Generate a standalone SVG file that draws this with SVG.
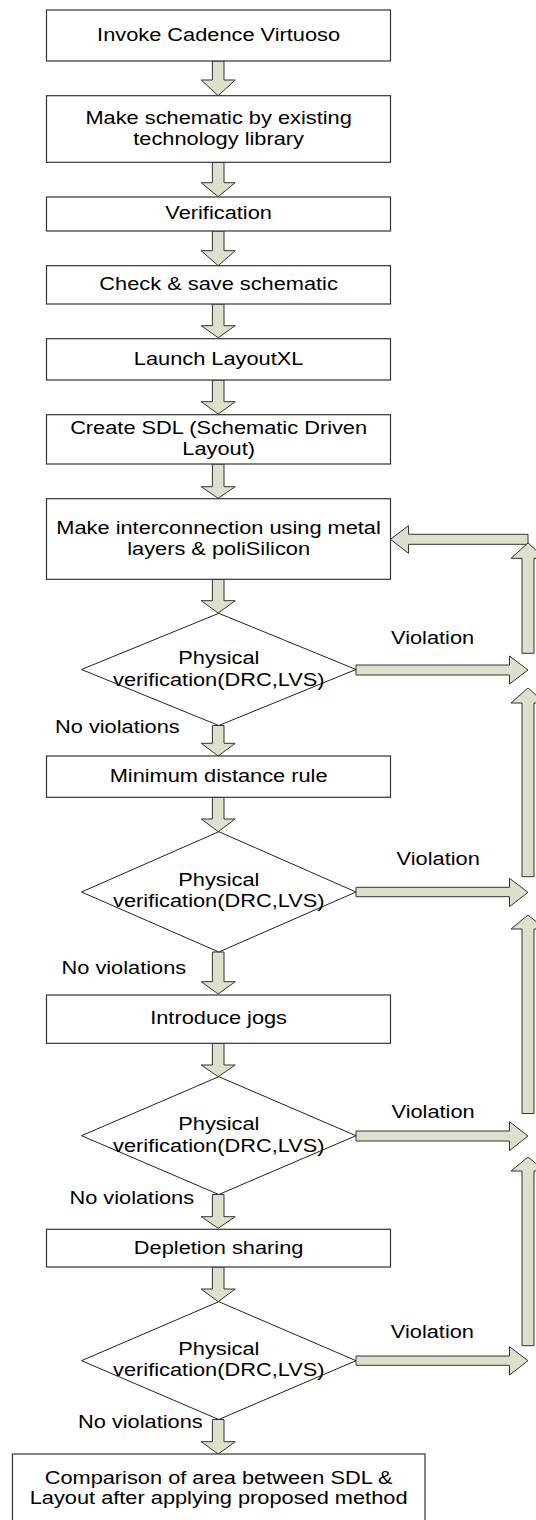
<svg xmlns="http://www.w3.org/2000/svg" width="536" height="1520" viewBox="0 0 536 1520">
<style>
.box{fill:#fff;stroke:#333;stroke-width:1.2}
.dia{fill:#fff;stroke:#222;stroke-width:1}
.arr{fill:#DDE1CB;stroke:#333;stroke-width:1;stroke-linejoin:miter}
.t{font-family:"Liberation Sans",Arial,sans-serif;font-size:18.7px;fill:#000}
.c{text-anchor:middle}
</style>
<rect width="536" height="1520" fill="#fff"/>
<g id="connectors">
<path class="arr" d="M212.4 61 H224 V80 H235.2 L218.2 95.7 L201.2 80 H212.4 Z"/>
<path class="arr" d="M212.4 162.3 H224 V182.7 H235.2 L218.2 196.7 L201.2 182.7 H212.4 Z"/>
<path class="arr" d="M212.4 231 H224 V250.7 H235.2 L218.2 265.7 L201.2 250.7 H212.4 Z"/>
<path class="arr" d="M212.4 304 H224 V325.7 H235.2 L218.2 337.7 L201.2 325.7 H212.4 Z"/>
<path class="arr" d="M212.4 380 H224 V401.7 H235.2 L218.2 414 L201.2 401.7 H212.4 Z"/>
<path class="arr" d="M212.4 464 H224 V486.7 H235.2 L218.2 498.3 L201.2 486.7 H212.4 Z"/>
<path class="arr" d="M212.4 579.3 H224 V600.7 H235.2 L218.2 613 L201.2 600.7 H212.4 Z"/>
<path class="arr" d="M212.4 725.5 H224 V743.3 H235.2 L218.2 756 L201.2 743.3 H212.4 Z"/>
<path class="arr" d="M212.4 797.3 H224 V819 H235.2 L218.2 831.7 L201.2 819 H212.4 Z"/>
<path class="arr" d="M212.4 952 H224 V981.7 H235.2 L218.2 994 L201.2 981.7 H212.4 Z"/>
<path class="arr" d="M212.4 1043.3 H224 V1065 H235.2 L218.2 1076.7 L201.2 1065 H212.4 Z"/>
<path class="arr" d="M212.4 1194.5 H224 V1216.7 H235.2 L218.2 1228.3 L201.2 1216.7 H212.4 Z"/>
<path class="arr" d="M212.4 1267 H224 V1289 H235.2 L218.2 1301.7 L201.2 1289 H212.4 Z"/>
<path class="arr" d="M212.4 1419.5 H224 V1441.7 H235.2 L218.2 1454 L201.2 1441.7 H212.4 Z"/>
<path class="arr" d="M356 665 H509.5 V656 L528 670 L509.5 684 V675 H356 Z"/>
<path class="arr" d="M356 887.3 H509.5 V878.3 L528 892.3 L509.5 906.7 V896.7 H356 Z"/>
<path class="arr" d="M356 1131 H509.5 V1121.7 L528 1136 L509.5 1150.7 V1141 H356 Z"/>
<path class="arr" d="M356 1356 H509.5 V1346.7 L528 1360.7 L509.5 1375 V1365.3 H356 Z"/>
<path class="arr" d="M528 534.3 H408.5 V525.7 L390.5 539.3 L408.5 553.3 V544.3 H528 Z"/>
<path class="arr" d="M522 653.3 V558.3 H511 L528 543 L545 558.3 H534 V653.3 Z"/>
<path class="arr" d="M522 876.7 V703 H511 L528 688 L545 703 H534 V876.7 Z"/>
<path class="arr" d="M522 1113.5 V929 H511 L528 915 L545 929 H534 V1113.5 Z"/>
<path class="arr" d="M522 1345.7 V1171 H511 L528 1157 L545 1171 H534 V1345.7 Z"/>
<text class="t" transform="matrix(1.165 0 0 1 391 0)" y="644">Violation</text>
<text class="t" transform="matrix(1.165 0 0 1 396.6 0)" y="865">Violation</text>
<text class="t" transform="matrix(1.165 0 0 1 391.5 0)" y="1117.7">Violation</text>
<text class="t" transform="matrix(1.165 0 0 1 390.8 0)" y="1337.7">Violation</text>
<text class="t" transform="matrix(1.165 0 0 1 55 0)" y="732.7">No violations</text>
<text class="t" transform="matrix(1.165 0 0 1 61.5 0)" y="974">No violations</text>
<text class="t" transform="matrix(1.165 0 0 1 69.4 0)" y="1204">No violations</text>
<text class="t" transform="matrix(1.165 0 0 1 78 0)" y="1428.3">No violations</text>
</g>
<g id="n1"><rect class="box" x="46.5" y="10" width="344" height="51"/>
<text class="t c" transform="matrix(1.165 0 0 1 218.6 0)" y="41">Invoke Cadence Virtuoso</text></g>
<g id="n2"><rect class="box" x="46.5" y="95.7" width="344" height="66.6"/>
<text class="t c" transform="matrix(1.165 0 0 1 218.6 0)" y="124.3">Make schematic by existing</text>
<text class="t c" transform="matrix(1.165 0 0 1 218.6 0)" y="145">technology library</text></g>
<g id="n3"><rect class="box" x="46.5" y="197" width="344" height="34"/>
<text class="t c" transform="matrix(1.165 0 0 1 218.6 0)" y="219">Verification</text></g>
<g id="n4"><rect class="box" x="46.5" y="265.7" width="344" height="38.3"/>
<text class="t c" transform="matrix(1.165 0 0 1 218.6 0)" y="290">Check &amp; save schematic</text></g>
<g id="n5"><rect class="box" x="46.5" y="338.7" width="344" height="41.3"/>
<text class="t c" transform="matrix(1.165 0 0 1 218.6 0)" y="365.3">Launch LayoutXL</text></g>
<g id="n6"><rect class="box" x="46.5" y="414.7" width="344" height="49.3"/>
<text class="t c" transform="matrix(1.165 0 0 1 218.6 0)" y="434">Create SDL (Schematic Driven</text>
<text class="t c" transform="matrix(1.165 0 0 1 218.6 0)" y="454.7">Layout)</text></g>
<g id="n7"><rect class="box" x="46.5" y="498.7" width="344" height="80.6"/>
<text class="t c" transform="matrix(1.165 0 0 1 218.6 0)" y="534.3">Make interconnection using metal</text>
<text class="t c" transform="matrix(1.165 0 0 1 218.6 0)" y="555">layers &amp; poliSilicon</text></g>
<g id="d1"><polygon class="dia" points="218.8,613.3 356,669.5 218.8,725.5 81.5,669.5"/>
<text class="t c" transform="matrix(1.165 0 0 1 218.8 0)" y="664.3">Physical</text>
<text class="t c" transform="matrix(1.165 0 0 1 218.8 0)" y="685.7">verification(DRC,LVS)</text></g>
<g id="n8"><rect class="box" x="46.5" y="756" width="344" height="41.3"/>
<text class="t c" transform="matrix(1.165 0 0 1 218.6 0)" y="781.7">Minimum distance rule</text></g>
<g id="d2"><polygon class="dia" points="218.8,831.7 356,892 218.8,952 81.5,892"/>
<text class="t c" transform="matrix(1.165 0 0 1 218.8 0)" y="886">Physical</text>
<text class="t c" transform="matrix(1.165 0 0 1 218.8 0)" y="907.3">verification(DRC,LVS)</text></g>
<g id="n9"><rect class="box" x="46.5" y="995" width="344" height="48.3"/>
<text class="t c" transform="matrix(1.165 0 0 1 218.6 0)" y="1024.3">Introduce jogs</text></g>
<g id="d3"><polygon class="dia" points="218.8,1076.7 356,1135.7 218.8,1194.5 81.5,1135.7"/>
<text class="t c" transform="matrix(1.165 0 0 1 218.8 0)" y="1130">Physical</text>
<text class="t c" transform="matrix(1.165 0 0 1 218.8 0)" y="1151.7">verification(DRC,LVS)</text></g>
<g id="n10"><rect class="box" x="46.5" y="1229.3" width="344" height="37.7"/>
<text class="t c" transform="matrix(1.165 0 0 1 218.6 0)" y="1254">Depletion sharing</text></g>
<g id="d4"><polygon class="dia" points="218.8,1301.7 356,1360.7 218.8,1419.5 81.5,1360.7"/>
<text class="t c" transform="matrix(1.165 0 0 1 218.8 0)" y="1355">Physical</text>
<text class="t c" transform="matrix(1.165 0 0 1 218.8 0)" y="1375.7">verification(DRC,LVS)</text></g>
<g id="n11"><rect class="box" x="12.5" y="1454" width="412.5" height="80"/>
<text class="t c" transform="matrix(1.165 0 0 1 218.6 0)" y="1484">Comparison of area between SDL &amp;</text>
<text class="t c" transform="matrix(1.165 0 0 1 218.6 0)" y="1504.3">Layout after applying proposed method</text></g>
</svg>
